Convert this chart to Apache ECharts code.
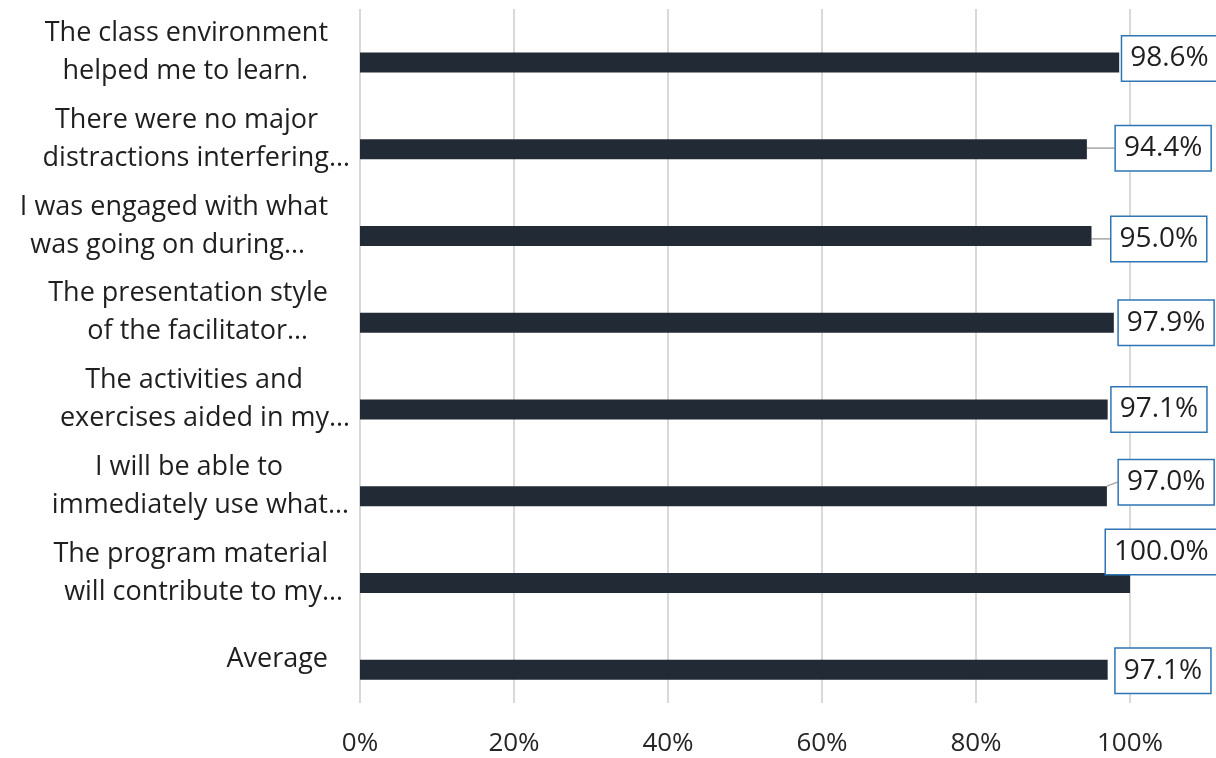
<!DOCTYPE html>
<html>
<head>
<meta charset="utf-8">
<script src="https://cdn.jsdelivr.net/npm/echarts@6/dist/echarts.min.js"></script>
<style>html,body{margin:0;padding:0;background:#fff}#c{width:1216px;height:758px}</style>
</head>
<body>
<div id="c"></div>
<script>
// ---- data ----
const categories = [
  "The class environment\nhelped me to learn.",
  "There were no major\ndistractions interfering…",
  "I was engaged with what\nwas going on during…",
  "The presentation style\nof the facilitator…",
  "The activities and\nexercises aided in my…",
  "I will be able to\nimmediately use what…",
  "The program material\nwill contribute to my…",
  "Average"
];
const values = [98.6, 94.4, 95.0, 97.9, 97.1, 97.0, 100.0, 97.1];
const xTicks = [0, 20, 40, 60, 80, 100];

// ---- layout tweaks (not data) ----
const lineRightEdges = [[328,308],[318,350],[328,305],[328,308],[303,350],[283,349],[328,343],[328]];
const labelShift = [[0,-4],[26,-1],[17,3],[2,0],[1,0],[9,-14],[-27,-31],[5,1]];
const leaderIdx = [1,2,5];
const anchorX = 350;

const rich = {};
lineRightEdges.forEach((rs,i)=>rs.forEach((r,j)=>{
  rich['r'+i+'l'+j] = {align:'right', padding:[0, anchorX-r, 0, 0], fontSize:27, lineHeight:38,
    fontFamily:'Open Sans', fontWeight:400, color:'#1f1f1f'};
}));

const chart = echarts.init(document.getElementById('c'), null, {renderer:'canvas'});
chart.setOption({
  animation:false,
  grid:{left:360, right:86, top:9, bottom:55, containLabel:false, outerBoundsMode:'none'},
  xAxis:{
    type:'value', min:xTicks[0], max:xTicks[xTicks.length-1], interval:20,
    axisLine:{show:false}, axisTick:{show:false},
    splitLine:{show:true, lineStyle:{color:'#d9d9d9', width:2}},
    axisLabel:{formatter:'{value}%', margin:28, fontSize:26,
      fontFamily:'Open Sans', color:'#262626'}
  },
  yAxis:{
    type:'category', inverse:true, data:categories,
    axisLine:{show:false}, axisTick:{show:false},
    axisLabel:{margin:10, align:'right', rich:rich,
      formatter:(v,idx)=>v.split('\n').map((l,j)=>'{r'+idx+'l'+j+'|'+l+'}').join('\n')}
  },
  series:[
    {
      type:'bar', barWidth:20, barGap:'0%',
      data: values.map(()=>null)
    },
    {
      type:'bar', barWidth:20, barGap:'0%',
      itemStyle:{color:'#222a35'},
      data: values.map((v,i)=>({value:v, labelLine:{show: leaderIdx.includes(i)}})),
      label:{
        show:true, position:'right', distance:3,
        formatter:p=>p.value.toFixed(1)+'%',
        fontSize:28, fontFamily:'Open Sans', fontWeight:400, color:'#1f1f1f',
        backgroundColor:'#fff', borderColor:'#2e75b6', borderWidth:1.5,
        padding:[9,8,7,8]
      },
      labelLine:{show:true, lineStyle:{color:'#a6a6a6', width:1.5}},
      labelLayout:p=>({dx:labelShift[p.dataIndex][0], dy:labelShift[p.dataIndex][1]})
    }
  ]
});
</script>
</body>
</html>
